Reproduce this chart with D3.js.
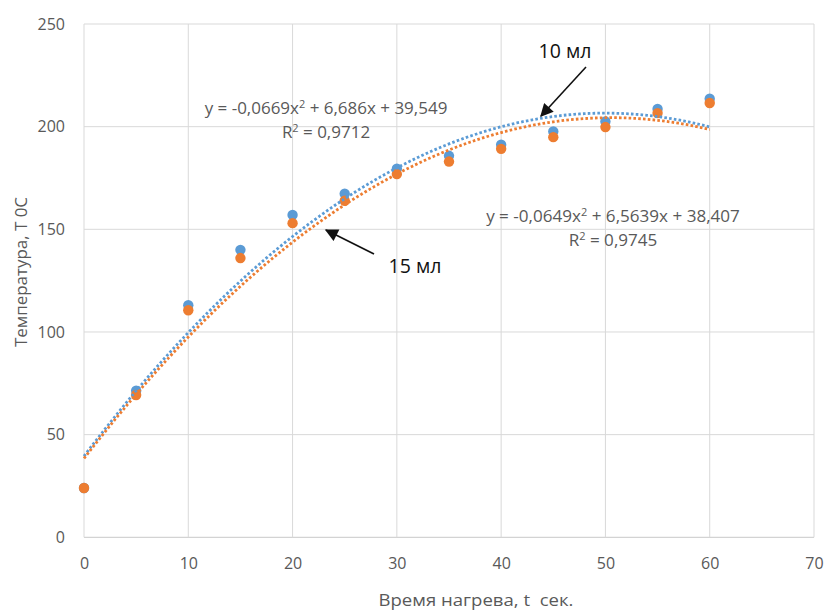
<!DOCTYPE html>
<html><head><meta charset="utf-8">
<script src="https://cdn.jsdelivr.net/npm/d3@7"></script>
<style>body{margin:0;background:#fff;} text{font-family:"Open Sans",sans-serif;}</style>
</head><body><svg id="c" width="827" height="613"></svg>
<script>
const times = [0,5,10,15,20,25,30,35,40,45,50,55,60];
const temp10 = [24,71.4,113,140,157,167.3,179.5,185.8,191.2,197.7,202.5,208.6,213.6];
const temp15 = [24,69.3,110.6,136,153,163.9,176.9,183,189.2,194.9,199.8,206.6,211.5];
const coef10 = [-0.0669, 6.686, 39.549];
const coef15 = [-0.0649, 6.5639, 38.407];
const xTicks = [0,10,20,30,40,50,60,70];
const yTicks = [0,50,100,150,200,250];
const eq10 = ["y = -0,0669x", "2", " + 6,686x + 39,549"];
const r2_10 = "0,9712";
const eq15 = ["y = -0,0649x", "2", " + 6,5639x + 38,407"];
const r2_15 = "0,9745";

const svg = d3.select("#c");
const x = d3.scaleLinear().domain([0,70]).range([84,814]);
const y = d3.scaleLinear().domain([0,250]).range([537.3,24]);
const blue = "#5B9BD5", orange = "#ED7D31", txt = "#595959";

// gridlines
svg.append("g").selectAll("line.h").data(yTicks).join("line")
  .attr("x1",x(0)).attr("x2",x(70)).attr("y1",d=>y(d)).attr("y2",d=>y(d))
  .attr("stroke",d=>d===0?"#c8c8c8":"#d9d9d9").attr("stroke-width",1);
svg.append("g").selectAll("line.v").data(xTicks).join("line")
  .attr("y1",y(0)).attr("y2",y(250)).attr("x1",d=>x(d)).attr("x2",d=>x(d))
  .attr("stroke","#d9d9d9").attr("stroke-width",1);

// axes labels via d3 axes
const xa = svg.append("g").attr("transform",`translate(0,${y(0)})`)
  .call(d3.axisBottom(x).tickValues(xTicks).tickSize(0).tickPadding(20));
xa.select(".domain").remove();
xa.selectAll("text").attr("fill",txt).style("font-size","16px").style("font-family","Open Sans");
const ya = svg.append("g").attr("transform",`translate(${x(0)},0)`)
  .call(d3.axisLeft(y).tickValues(yTicks).tickSize(0).tickPadding(19));
ya.select(".domain").remove();
ya.selectAll("text").attr("fill",txt).style("font-size","16px").style("font-family","Open Sans");

// points
const pts10 = times.map((t,i)=>[t,temp10[i]]);
const pts15 = times.map((t,i)=>[t,temp15[i]]);
svg.append("g").selectAll("circle").data(pts10).join("circle")
  .attr("cx",d=>x(d[0])).attr("cy",d=>y(d[1])).attr("r",5.2).attr("fill",blue);
svg.append("g").selectAll("circle").data(pts15).join("circle")
  .attr("cx",d=>x(d[0])).attr("cy",d=>y(d[1])).attr("r",5.2).attr("fill",orange);

// trendlines (polynomial from the displayed coefficients)
const poly = c => t => c[0]*t*t + c[1]*t + c[2];
const tt = d3.range(0,60.01,0.5);
const line = d3.line().x(d=>x(d[0])).y(d=>y(d[1]));
[[coef10,blue],[coef15,orange]].forEach(([c,col])=>{
  const f = poly(c);
  svg.append("path").attr("d",line(tt.map(t=>[t,f(t)])))
    .attr("fill","none").attr("stroke",col).attr("stroke-width",2.8)
    .attr("stroke-dasharray","2.6,2.2");
});

// equations
function eq(parts, r2, cx, yb, w){
  const t = svg.append("text").attr("x",cx).attr("y",yb).attr("text-anchor","middle")
    .attr("fill",txt).style("font-size","15.5px");
  t.append("tspan").text(parts[0]);
  t.append("tspan").text(parts[1]).attr("dy",-6).style("font-size","10px");
  t.append("tspan").text(parts[2]).attr("dy",6);
  const bb = t.node().getBBox();
  const s = w / bb.width;
  t.attr("transform",`translate(${cx},0) scale(${s},1) translate(${-cx},0)`);
  const r = svg.append("text").attr("x",cx).attr("y",yb+24).attr("text-anchor","middle")
    .attr("fill",txt).style("font-size","15.5px");
  r.append("tspan").text("R");
  r.append("tspan").text("2").attr("dy",-6).style("font-size","10px");
  r.append("tspan").text(" = "+r2).attr("dy",6);
  r.attr("transform",`translate(${cx},0) scale(${s},1) translate(${-cx},0)`);
}
eq(eq10, r2_10, 326, 114, 243);
eq(eq15, r2_15, 613, 222, 254);

// annotations
const defs = svg.append("defs");
defs.append("marker").attr("id","ah").attr("viewBox","0 0 10 10")
  .attr("refX",9).attr("refY",5).attr("markerWidth",15).attr("markerHeight",13)
  .attr("markerUnits","userSpaceOnUse").attr("orient","auto")
  .append("path").attr("d","M0,0 L10,5 L0,10 z").attr("fill","#111");
svg.append("line").attr("x1",586).attr("y1",67).attr("x2",541).attr("y2",116)
  .attr("stroke","#111").attr("stroke-width",1.6).attr("marker-end","url(#ah)");
svg.append("line").attr("x1",374).attr("y1",254).attr("x2",326).attr("y2",230)
  .attr("stroke","#111").attr("stroke-width",1.6).attr("marker-end","url(#ah)");
svg.append("text").attr("x",565).attr("y",58).attr("text-anchor","middle")
  .attr("fill","#111").style("font-size","19.5px").text("10 мл");
svg.append("text").attr("x",415).attr("y",273).attr("text-anchor","middle")
  .attr("fill","#111").style("font-size","19.5px").text("15 мл");

// axis titles
svg.append("text").attr("x",476).attr("y",606).attr("text-anchor","middle")
  .attr("textLength",195).attr("lengthAdjust","spacingAndGlyphs")
  .attr("xml:space","preserve").style("white-space","pre")
  .attr("fill",txt).style("font-size","16.5px").text("Время нагрева, t  сек.");
svg.append("text").attr("transform","translate(27,272) rotate(-90)").attr("text-anchor","middle")
  .attr("textLength",150).attr("lengthAdjust","spacingAndGlyphs")
  .attr("fill",txt).style("font-size","16.5px").text("Температура, Т 0С");
</script></body></html>
